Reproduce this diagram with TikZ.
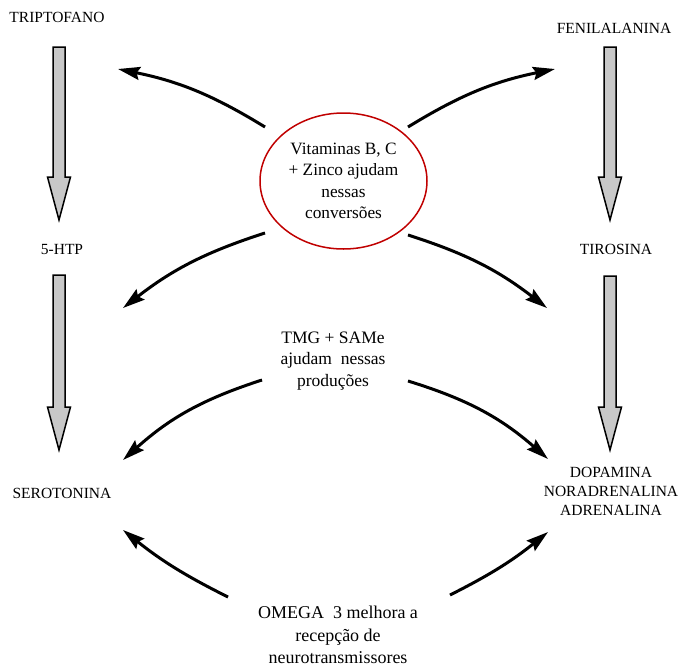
\documentclass[tikz,border=0pt]{standalone}
\usepackage{fontspec}
\setmainfont{Liberation Serif}
\usetikzlibrary{arrows.meta,shapes.geometric,calc}
\definecolor{vitred}{RGB}{192,0,0}
\definecolor{convgray}{RGB}{200,200,200}

\begin{document}
\begin{tikzpicture}
        [
            x=1pt, y=-1pt,
            amino/.style={inner sep=0pt, align=center, font=\fontsize{15.5}{19}\selectfont},
            cofactor/.style={inner sep=0pt, align=center, font=\fontsize{17.5}{21.5}\selectfont},
            vitamin/.style={ellipse, draw=vitred, line width=1.5pt, minimum width=167pt, minimum height=136pt,
                inner sep=0pt, align=center, font=\fontsize{17.3}{21.5}\selectfont},
            conv/.style={fill=convgray, draw=black, line width=1.5pt, line join=miter,
                to path={let \p1=(\tikztostart), \p2=(\tikztotarget) in
                    (\x1-6pt,\y1) -- (\x1-6pt,\y2+43pt) -- (\x1-11.5pt,\y2+43pt) -- (\x1,\y2)
                    -- (\x1+11.5pt,\y2+43pt) -- (\x1+6pt,\y2+43pt) -- (\x1+6pt,\y1) -- cycle}},
            aid/.style={-{Stealth[length=22pt,width=13pt,inset=3pt]}, line width=3pt},
        ]
            \useasboundingbox (0,0) rectangle (680,667);

            \node[amino] (trip) at (57,17) {TRIPTOFANO};
            \node[amino] (htp) at (62,249) {5-HTP};
            \node[amino] (sero) at (62,493) {SEROTONINA};
            \node[amino] (feni) at (614,28) {FENILALANINA};
            \node[amino] (tiro) at (616,249) {TIROSINA};
            \node[amino] (dopa) at (611,491) {DOPAMINA\\NORADRENALINA\\ADRENALINA};

            \node[vitamin] (vit) at (343.5,181) {Vitaminas B, C\\+ Zinco ajudam\\nessas\\conversões};
            \node[cofactor] (tmg) at (333,361) {TMG + SAMe\\ajudam~~nessas\\produções};
            \node[cofactor, font=\fontsize{18}{22.5}\selectfont] (omega) at (338,635)
                {OMEGA~~3 melhora a\\recepção de\\neurotransmissores};

            % block arrows
            \coordinate (tripout) at (59,47);
            \coordinate (htpin) at (59,220);
            \coordinate (htpout) at (59,275);
            \coordinate (seroin) at (59,450);
            \coordinate (feniout) at (610,47);
            \coordinate (tiroin) at (610,220);
            \coordinate (tiroout) at (610,276);
            \coordinate (dopain) at (610,450);

            \draw[conv] (tripout) to (htpin);
            \draw[conv] (htpout) to (seroin);
            \draw[conv] (feniout) to (tiroin);
            \draw[conv] (tiroout) to (dopain);

            % curved arrows
            \coordinate (vitnw) at (265,127);
            \coordinate (vitne) at (408,127);
            \coordinate (vitsw) at (265,233);
            \coordinate (vitse) at (408,235);
            \coordinate (tmgw) at (262,380);
            \coordinate (tmge) at (408,381);
            \coordinate (omegaw) at (228,597);
            \coordinate (omegae) at (450,595);
            \coordinate (tripstep) at (118,69);
            \coordinate (fenistep) at (555,69);
            \coordinate (htpstep) at (123,308);
            \coordinate (tirostep) at (547,308);
            \coordinate (serostep) at (123,460);
            \coordinate (dopastep) at (548,459);
            \coordinate (serorecv) at (123,530);
            \coordinate (doparecv) at (548,532);

            \draw[aid] (vitnw) to [bend right=10] (tripstep);
            \draw[aid] (vitne) to [bend left=10] (fenistep);
            \draw[aid] (vitsw) to [bend right=10] (htpstep);
            \draw[aid] (vitse) to [bend left=10] (tirostep);
            \draw[aid] (tmgw) to [bend right=12] (serostep);
            \draw[aid] (tmge) to [bend left=12] (dopastep);
            \draw[aid] (omegaw) to [bend left=6] (serorecv);
            \draw[aid] (omegae) to [bend right=6] (doparecv);
        \end{tikzpicture}
\end{document}
